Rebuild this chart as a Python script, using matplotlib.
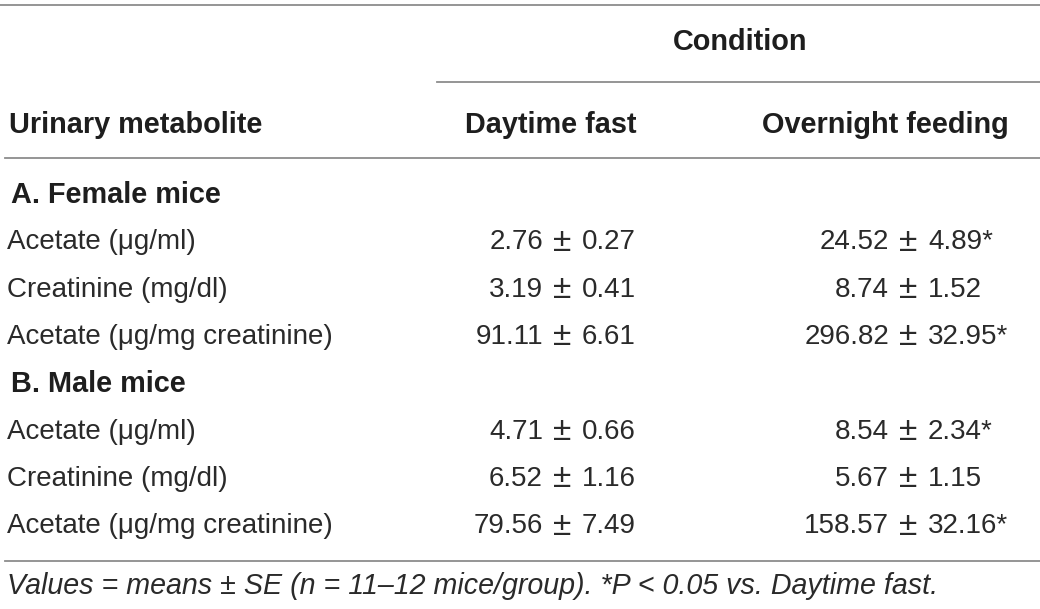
import matplotlib.pyplot as plt

# Data
metabolites = ["Acetate (μg/ml)", "Creatinine (mg/dl)", "Acetate (μg/mg creatinine)"]
groups = ["A. Female mice", "B. Male mice"]
conditions = ["Daytime fast", "Overnight feeding"]

female_fast_mean = [2.76, 3.19, 91.11]
female_fast_se = [0.27, 0.41, 6.61]
female_feed_mean = [24.52, 8.74, 296.82]
female_feed_se = [4.89, 1.52, 32.95]
female_feed_sig = [True, False, True]

male_fast_mean = [4.71, 6.52, 79.56]
male_fast_se = [0.66, 1.16, 7.49]
male_feed_mean = [8.54, 5.67, 158.57]
male_feed_se = [2.34, 1.15, 32.16]
male_feed_sig = [True, False, True]

footnote = "Values = means ± SE (n = 11–12 mice/group). *P < 0.05 vs. Daytime fast."

plt.rcParams['font.family'] = ['Liberation Sans', 'DejaVu Sans']

fig = plt.figure(figsize=(10.4, 6.09), dpi=100)
ax = fig.add_axes([0, 0, 1, 1])
ax.set_xlim(0, 1040)
ax.set_ylim(609, 0)
ax.axis('off')

fs = 20
fs_bold = 20.8
txt_col = '#2a2a2a'
line_kw = dict(color='#8c8c8c', lw=1.3)

# rules
ax.plot([0, 1040], [5, 5], **line_kw)
ax.plot([437, 1040], [82, 82], **line_kw)
ax.plot([5, 1040], [158, 158], **line_kw)
ax.plot([5, 1040], [561, 561], **line_kw)

# header
ax.text(740, 42, "Condition", ha='center', va='center', fontsize=fs_bold, fontweight='bold', color='#1e1e1e')
ax.text(9, 125, "Urinary metabolite", ha='left', va='center', fontsize=fs_bold, fontweight='bold', color='#1e1e1e')
ax.text(551, 125, conditions[0], ha='center', va='center', fontsize=fs_bold, fontweight='bold', color='#1e1e1e')
ax.text(885, 125, conditions[1], ha='center', va='center', fontsize=fs_bold, fontweight='bold', color='#1e1e1e')

# body: mean right of x, ± centred, se to the left
mean_x = [543, 889]


def cell(x, y, m, s, star):
    ax.text(x, y, f"{m:.2f}", ha='right', va='center', fontsize=fs, color=txt_col)
    ax.text(x + 19, y, "±", ha='center', va='center', fontsize=fs + 4, color=txt_col)
    ax.text(x + 39, y, f"{s:.2f}" + ("*" if star else ""), ha='left', va='center', fontsize=fs, color=txt_col)


blocks = [
    (groups[0], female_fast_mean, female_fast_se, female_feed_mean, female_feed_se, female_feed_sig),
    (groups[1], male_fast_mean, male_fast_se, male_feed_mean, male_feed_se, male_feed_sig),
]
y = 195
step = 47.3
for name, fm, fse, om, ose, sig in blocks:
    ax.text(11, y, name, ha='left', va='center', fontsize=fs_bold, fontweight='bold', color='#1e1e1e')
    y += step
    for i, label in enumerate(metabolites):
        ax.text(7, y, label, ha='left', va='center', fontsize=fs, color=txt_col)
        cell(mean_x[0], y, fm[i], fse[i], False)
        cell(mean_x[1], y, om[i], ose[i], sig[i])
        y += step

ax.text(7, 586, footnote, ha='left', va='center', fontsize=20.6, style='italic', color=txt_col)

fig.savefig('out.png', dpi=100)
